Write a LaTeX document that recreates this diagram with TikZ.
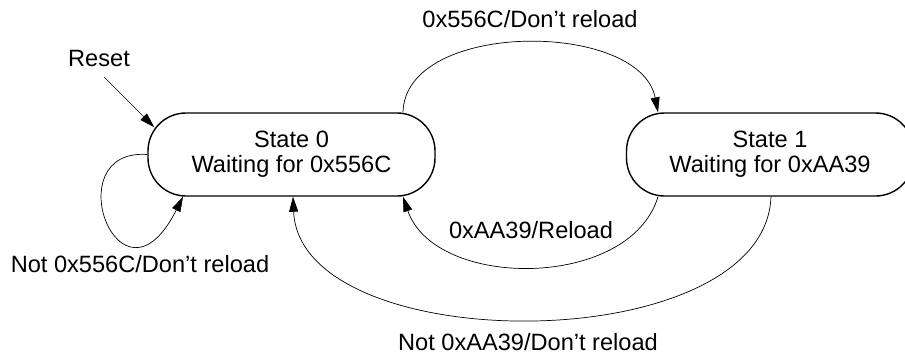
\documentclass[tikz,border=0pt]{standalone}
\usepackage{fontspec}
\setmainfont{Liberation Sans}
\usetikzlibrary{arrows.meta}
\begin{document}
\begin{tikzpicture}[x=1pt,y=-1pt,
  lbl/.style={font=\fontsize{23.6}{25}\selectfont, inner sep=0pt, anchor=base},
  state/.style={draw, line width=1.4pt, rounded corners=38pt, minimum width=287pt, minimum height=83pt, align=center, font=\fontsize{23.6}{25}\selectfont, inner sep=0pt},
  conn/.style={line width=0.7pt, -{Triangle[length=15pt,width=9pt]}}]
\useasboundingbox (0,0) rectangle (905,354);
\node[state] (s0) at (291.5,154.5) {State 0\\Waiting for 0x556C};
\node[state] (s1) at (770,154.5) {State 1\\Waiting for 0xAA39};
\node[lbl] (lreset) at (99,66) {Reset};
\node[lbl] (ltop) at (530,27) {0x556C/Don’t reload};
\node[lbl] (lself) at (140,272) {Not 0x556C/Don’t reload};
\node[lbl] (lrel) at (531,238) {0xAA39/Reload};
\node[lbl] (lnot) at (528,350) {Not 0xAA39/Don’t reload};
\coordinate (rs) at (104,77);
\draw[conn] (rs) -- ([xshift=7pt,yshift=-15pt]s0.north west);
\draw[conn] (s0.west) .. controls (55,148) and (120,322) .. ([xshift=-108.5pt]s0.south);
\draw[conn] ([xshift=111.5pt]s0.north) .. controls (405,20) and (640,20) .. ([xshift=-112pt]s1.north);
\draw[conn] ([xshift=-112pt]s1.south) .. controls (630,290) and (435,290) .. ([xshift=111.5pt]s0.south);
\draw[conn] ([xshift=1pt]s1.south) .. controls (765,360) and (300,360) .. ([xshift=1.5pt]s0.south);
\end{tikzpicture}
\end{document}
